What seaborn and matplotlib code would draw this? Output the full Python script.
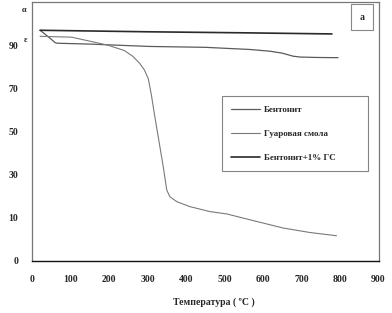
import matplotlib
matplotlib.use("Agg")
import matplotlib.pyplot as plt
import seaborn as sns

# Series (temperature in C, mass on the chart's own scale)
bent_gs_temp = [21, 300, 560, 779]
bent_gs_mass = [96.9, 96.2, 95.7, 95.2]

bent_temp = [21, 45, 60, 65, 150, 306, 450, 566, 618, 650, 678, 696, 740, 795]
bent_mass = [96.9, 93.5, 91.2, 90.9, 90.5, 89.4, 89.0, 88.0, 87.2, 86.3, 84.9, 84.5, 84.3, 84.2]

guar_temp = [21, 103, 197, 240, 262, 280, 292, 302, 310, 318, 328, 341, 350, 358,
             376, 410, 462, 506, 566, 652, 722, 791]
guar_mass = [94.1, 93.7, 90.0, 87.5, 84.8, 81.5, 78.5, 74.5, 67.0, 58.0, 47.4, 33.6,
             22.9, 19.8, 17.5, 15.2, 12.9, 11.8, 9.1, 5.3, 3.2, 1.7]

series_names = ["Бентонит", "Гуаровая смола", "Бентонит+1% ГС"]

y_ticks = [-10, 10, 30, 50, 70, 90]
y_tick_labels = ["0", "10", "30", "50", "70", "90"]
x_ticks = [0, 100, 200, 300, 400, 500, 600, 700, 800, 900]

sns.set_style("white")
plt.rcParams['font.family'] = ['Liberation Serif', 'DejaVu Serif']
plt.rcParams['font.weight'] = 'bold'

fig = plt.figure(figsize=(3.92, 3.13), dpi=100)
ax = fig.add_axes([32 / 392, 1 - 261 / 313, 346.5 / 392, 259 / 313])

sns.lineplot(x=bent_temp, y=bent_mass, ax=ax, color="#5a5a5a", linewidth=0.9,
             label=series_names[0])
sns.lineplot(x=guar_temp, y=guar_mass, ax=ax, color="#7a7a7a", linewidth=0.8,
             label=series_names[1])
sns.lineplot(x=bent_gs_temp, y=bent_gs_mass, ax=ax, color="#2a2a2a", linewidth=1.2,
             label=series_names[2])

ax.set_xlim(0, 900)
ax.set_ylim(-10, 110)
ax.set_xticks(x_ticks)
ax.set_xticklabels([str(t) for t in x_ticks], fontsize=7, fontweight='bold')
ax.set_yticks(y_ticks)
ax.set_yticklabels(y_tick_labels, fontsize=7, fontweight='bold')
ax.tick_params(axis='both', direction='in', length=3, color='#aaaaaa', pad=10)
ax.set_xlabel("Температура ( ºC )", fontsize=7, fontweight='bold')
ax.xaxis.set_label_coords((214 - 32) / 346.5, -(297 - 261) / 259)
ax.set_ylabel("")

for side in ['top', 'right', 'left']:
    ax.spines[side].set_color('#777777')
    ax.spines[side].set_linewidth(0.9)
ax.spines['bottom'].set_color('#111111')
ax.spines['bottom'].set_linewidth(1.0)

# legend frame stretched to the reference box width
leg = ax.legend(loc='upper left',
                bbox_to_anchor=((222 - 32) / 346.5, (261 - 99) / 259, 146 / 346.5, 0.01),
                mode='expand', frameon=True, fancybox=False, fontsize=6.5,
                handlelength=3.2, labelspacing=1.75, borderpad=1.0,
                handletextpad=0.4, borderaxespad=0)
leg.get_frame().set_edgecolor('#666666')
leg.get_frame().set_linewidth(0.8)
for t in leg.get_texts():
    t.set_fontweight('bold')

ax.annotate("a", xy=(362 / 392, 1 - 17 / 313), xycoords='figure fraction',
            ha='center', va='center', fontsize=7, fontweight='bold',
            bbox=dict(boxstyle='square,pad=0.85', facecolor='white',
                      edgecolor='#888888', linewidth=0.8))

fig.text(24 / 392, 1 - 10 / 313, "α", fontsize=6, fontweight='bold',
         ha='center', va='center')
fig.text(26 / 392, 1 - 40 / 313, "ε", fontsize=6, fontweight='bold',
         ha='center', va='center')

fig.savefig("out.png", dpi=100)
